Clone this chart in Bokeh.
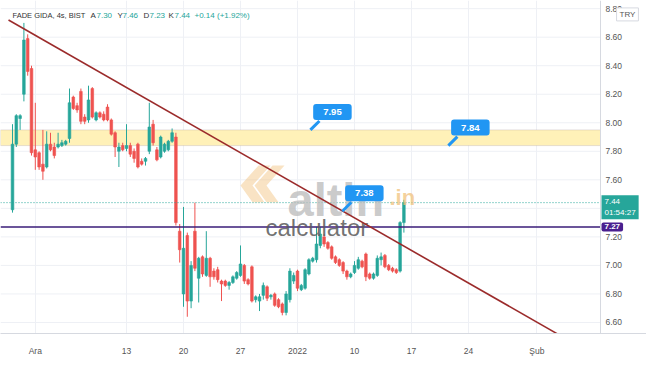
from bokeh.plotting import figure
from bokeh.models import Range1d, FixedTicker, Span, BoxAnnotation, Label, ColumnDataSource
from bokeh.core.properties import value
from bokeh.embed import file_html
from bokeh.resources import INLINE

# ---------------- data (4h bars, FADE GIDA, BIST) ----------------
opens = [7.39, 7.85, 8.03, 8.20, 8.59, 8.38, 7.81, 7.79, 7.71, 7.69,
         7.85, 7.83, 7.83, 7.84, 7.85, 7.89, 8.18, 8.12, 8.22, 8.04,
         8.02, 8.24, 8.02, 8.07, 8.06, 8.11, 8.02, 7.93, 7.80, 7.84,
         7.82, 7.84, 7.80, 7.85, 7.73, 7.73, 7.80, 7.99, 7.81, 7.76,
         7.80, 7.81, 7.87, 7.90, 7.24, 6.80, 7.21, 6.75, 7.24, 6.91,
         7.06, 6.93, 7.05, 6.96, 6.97, 6.89, 6.89, 6.86, 6.88, 6.91,
         6.93, 7.00, 6.90, 6.99, 6.76, 6.75, 6.79, 6.85, 6.78, 6.80,
         6.76, 6.73, 6.67, 6.76, 6.89, 6.96, 6.83, 6.84, 6.94, 7.03,
         7.04, 7.14, 7.20, 7.16, 7.13, 7.06, 7.04, 7.02, 6.96, 6.92,
         6.95, 6.98, 7.03, 7.08, 6.94, 6.91, 6.93, 7.04, 7.07, 7.00,
         6.98, 6.97, 6.96, 7.30]
highs = [7.99, 8.06, 8.06, 8.70, 8.62, 8.40, 8.14, 7.80, 7.95, 7.94,
         7.93, 7.86, 7.93, 7.88, 7.88, 8.24, 8.19, 8.14, 8.24, 8.06,
         8.26, 8.25, 8.08, 8.08, 8.08, 8.13, 8.03, 7.94, 7.86, 7.86,
         7.99, 7.86, 7.82, 7.86, 7.75, 7.76, 8.14, 8.02, 7.83, 7.91,
         7.86, 7.88, 7.96, 7.93, 7.29, 7.41, 7.23, 7.03, 7.44, 7.06,
         7.07, 7.24, 7.06, 6.98, 6.99, 6.90, 6.90, 6.89, 6.93, 6.96,
         7.14, 7.01, 6.91, 7.00, 6.79, 6.80, 6.88, 6.86, 6.80, 6.81,
         6.77, 6.74, 6.82, 6.98, 6.95, 6.97, 6.87, 6.98, 7.05, 7.06,
         7.27, 7.27, 7.22, 7.17, 7.14, 7.07, 7.05, 7.03, 6.97, 6.95,
         7.03, 7.06, 7.04, 7.09, 6.95, 6.95, 7.07, 7.09, 7.08, 7.01,
         6.99, 6.98, 7.31, 7.46]
lows = [7.37, 7.83, 7.95, 8.15, 8.33, 7.77, 7.67, 7.67, 7.60, 7.68,
        7.80, 7.75, 7.82, 7.83, 7.84, 7.86, 8.09, 8.07, 7.99, 7.99,
        8.00, 8.03, 8.01, 8.03, 8.01, 8.01, 7.91, 7.76, 7.69, 7.80,
        7.80, 7.76, 7.72, 7.68, 7.70, 7.70, 7.78, 7.84, 7.73, 7.75,
        7.79, 7.80, 7.86, 7.28, 7.02, 6.71, 6.64, 6.70, 6.96, 6.74,
        6.92, 6.92, 6.85, 6.90, 6.88, 6.75, 6.85, 6.83, 6.87, 6.90,
        6.92, 6.87, 6.86, 6.74, 6.74, 6.68, 6.76, 6.75, 6.76, 6.71,
        6.70, 6.65, 6.65, 6.74, 6.87, 6.82, 6.82, 6.83, 6.93, 7.02,
        7.02, 7.12, 7.13, 7.11, 7.04, 7.01, 6.99, 6.94, 6.90, 6.91,
        6.94, 6.97, 6.98, 6.89, 6.90, 6.90, 6.92, 7.00, 6.98, 6.96,
        6.95, 6.94, 6.95, 7.23]
closes = [7.85, 8.05, 8.05, 8.58, 8.36, 7.79, 7.76, 7.69, 7.66, 7.85,
          7.81, 7.77, 7.85, 7.86, 7.87, 8.14, 8.10, 8.09, 8.01, 8.01,
          8.16, 8.04, 8.07, 8.04, 8.02, 8.02, 7.92, 7.83, 7.83, 7.81,
          7.84, 7.78, 7.75, 7.69, 7.71, 7.75, 7.97, 7.86, 7.74, 7.90,
          7.85, 7.87, 7.93, 7.30, 7.11, 7.12, 6.75, 7.00, 6.98, 7.05,
          6.94, 7.05, 6.92, 6.92, 6.90, 6.87, 6.86, 6.88, 6.92, 6.95,
          7.01, 6.89, 6.87, 6.75, 6.78, 6.78, 6.86, 6.77, 6.79, 6.72,
          6.71, 6.67, 6.80, 6.96, 6.93, 6.84, 6.86, 6.97, 7.04, 7.05,
          7.15, 7.22, 7.15, 7.12, 7.05, 7.02, 7.00, 6.96, 6.92, 6.94,
          7.00, 7.04, 6.99, 6.92, 6.91, 6.94, 7.05, 7.06, 6.99, 6.97,
          6.96, 6.95, 7.30, 7.44]

# time axis: bar index of the first bar of each labelled day
tick_pos = [6, 30, 45, 60, 75, 90, 105, 120, 138]
tick_labels = ["Ara", "13", "20", "27", "2022", "10", "17", "24", "Şub"]
price_ticks = [6.6, 6.8, 7.0, 7.2, 7.4, 7.6, 7.8, 8.0, 8.2, 8.4, 8.6, 8.8]

symbol = "FADE GIDA, 4s, BIST"
currency = "TRY"
change_abs = 0.14
change_pct = 1.92
countdown = "01:54:27"
zone_low, zone_high = 7.84, 7.95
support_level = 7.27
callout_values = [7.95, 7.84, 7.38]
callout_bar = [78.4, 114.7, 86.8]
trend_x = [-1.05, 143.4]
trend_y = [8.72, 6.52]

# ---------------- layout helpers (canvas pixels -> data) ----------------
def px2i(px):
    return (px - 12) / 3.8

def py2p(py):
    return 8.0 - (py - 123) / 143.5

DX = 1 / 3.8      # data units per px (x)
DY = 1 / 143.5    # data units per px (y)
X_SCALE_EDGE = px2i(600)   # left edge of the price scale column

FONT = "Liberation Sans"
GREEN = "#26a69a"
RED = "#ef5350"
GRID = "#eef0f5"
AXIS = "#d6d9e0"

p = figure(width=646, height=358,
           x_range=Range1d(px2i(0), px2i(646)),
           y_range=Range1d(py2p(335), py2p(0)),
           y_axis_location=None,
           output_backend="svg", toolbar_location=None,
           min_border_left=0, min_border_top=0,
           min_border_right=0, min_border_bottom=23)
p.background_fill_color = "white"
p.border_fill_color = "white"
p.outline_line_color = None

# time axis
p.xaxis.ticker = FixedTicker(ticks=tick_pos)
p.xaxis.major_label_overrides = {t: l for t, l in zip(tick_pos, tick_labels)}
p.xaxis.major_tick_line_color = None
p.xaxis.minor_tick_line_color = None
p.xaxis.axis_line_color = AXIS
p.xaxis.major_label_text_font = FONT
p.xaxis.major_label_text_font_size = "8.5px"
p.xaxis.major_label_text_color = "#555555"
p.xaxis.major_label_standoff = 6

p.xgrid.ticker = FixedTicker(ticks=tick_pos)
p.xgrid.grid_line_color = GRID
p.ygrid.grid_line_color = None

# horizontal grid (stops at the price scale)
p.segment(x0=[px2i(0)] * len(price_ticks), y0=price_ticks,
          x1=[X_SCALE_EDGE] * len(price_ticks), y1=price_ticks, line_color=GRID, line_width=1)

# price scale column
p.add_layout(Span(location=X_SCALE_EDGE, dimension="height", line_color=AXIS, line_width=1))
p.text(x=[px2i(605)] * len(price_ticks), y=price_ticks,
       text=[f"{v:.2f}" for v in price_ticks],
       text_font=value(FONT), text_font_size="8.5px", text_color="#555555",
       text_baseline="middle", text_align="left")

# yellow resistance zone
p.add_layout(BoxAnnotation(bottom=zone_low, top=zone_high, right=X_SCALE_EDGE,
                           fill_color="#fff1b8", fill_alpha=1.0,
                           line_color="#a89a9a", line_width=1, level="underlay"))

# candles
idx = list(range(len(opens)))
colors = [GREEN if c >= o else RED for o, c in zip(opens, closes)]
src = ColumnDataSource(dict(x=idx, o=opens, h=highs, l=lows, c=closes,
                            top=[max(o, c) for o, c in zip(opens, closes)],
                            bot=[min(o, c) for o, c in zip(opens, closes)],
                            col=colors))
p.segment(x0="x", y0="l", x1="x", y1="h", color="col", line_width=1, source=src)
p.vbar(x="x", width=0.7, top="top", bottom="bot", fill_color="col", line_color="col",
       line_width=0.6, source=src)

# horizontal levels
p.segment(x0=[px2i(0)], y0=[closes[-1]], x1=[X_SCALE_EDGE], y1=[closes[-1]],
          line_color=GREEN, line_width=1, line_dash="1 2")
p.segment(x0=[px2i(0)], y0=[support_level], x1=[X_SCALE_EDGE], y1=[support_level],
          line_color="#3a1d78", line_width=1.5)

# watermark (altin.in calculator)
chev = [(240, 186), (258, 166), (270, 166), (252, 186), (264, 203), (252, 203)]
for off in (0, 14):
    p.patch([px2i(a + off) for a, b in chev], [py2p(b) for a, b in chev],
            fill_color="#f1c27d", fill_alpha=0.45, line_color=None)
p.text(x=[px2i(287)], y=[py2p(200)], text=["altin"], text_font=value(FONT),
       text_font_style="bold", text_font_size="47px", text_color="#bdbdbd", text_alpha=0.8,
       text_baseline="alphabetic")
p.text(x=[px2i(389)], y=[py2p(198)], text=[".in"], text_font=value(FONT),
       text_font_style="bold", text_font_size="22px", text_color="#f1c27d", text_alpha=0.75,
       text_baseline="alphabetic")
p.text(x=[px2i(265)], y=[py2p(228)], text=["calculator"], text_font=value(FONT),
       text_font_size="24px", text_color="#5a5a5a", text_alpha=0.85,
       text_baseline="alphabetic")

# trend line
p.line(trend_x, trend_y, line_color="#9b2b2b", line_width=1.6)

# callouts
for v, b in zip(callout_values, callout_bar):
    p.segment(x0=[b], y0=[v], x1=[b + 9 * DX], y1=[v + 9 * DY], line_color="#2196f3", line_width=3)
    p.add_layout(Label(x=b, y=v, x_offset=22, y_offset=18, text=f"{v:.2f}",
                       text_font=FONT, text_font_size="9.5px", text_font_style="bold",
                       text_color="white", text_align="center", text_baseline="middle",
                       background_fill_color="#2196f3", border_radius=3,
                       padding=dict(x=10, y=5)))

# header legend
hy = py2p(15)
pieces = [(12, symbol, "#333333", "7.5px"), (90, "A", "#333333", "8px"),
          (96, f"{opens[-1]:.2f}", GREEN, "8px"),
          (117, "Y", "#333333", "8px"), (122, f"{highs[-1]:.2f}", GREEN, "8px"),
          (143, "D", "#333333", "8px"), (149, f"{lows[-1]:.2f}", GREEN, "8px"),
          (168, "K", "#333333", "8px"), (174, f"{closes[-1]:.2f}", GREEN, "8px"),
          (194, f"+{change_abs:.2f} (+{change_pct:.2f}%)", GREEN, "8px")]
for px, t, c, fs in pieces:
    p.text(x=[px2i(px)], y=[hy], text=[t], text_font=value(FONT), text_font_size=fs,
           text_color=c, text_baseline="middle")

# price tags on the scale
p.add_layout(Label(x=px2i(601), y=py2p(196), text=f"{closes[-1]:.2f}\n{countdown}",
                   text_font=FONT, text_font_size="8px", text_color="white",
                   text_align="left", text_baseline="top",
                   background_fill_color=GREEN, padding=dict(x=3, y=2)))
p.add_layout(Label(x=px2i(601), y=support_level, text=f"{support_level:.2f}",
                   text_font=FONT, text_font_size="8px", text_font_style="bold", text_color="white",
                   text_align="left", text_baseline="middle",
                   background_fill_color="#4a1f8f", border_radius=2, padding=dict(x=3, y=2)))
p.add_layout(Label(x=px2i(627), y=py2p(14), text=currency, text_font=FONT, text_font_size="8px",
                   text_color="#555555", text_align="center", text_baseline="middle",
                   background_fill_color="white", border_line_color=AXIS,
                   padding=dict(x=3, y=2)))

open("out.html", "w").write(file_html(p, INLINE))
